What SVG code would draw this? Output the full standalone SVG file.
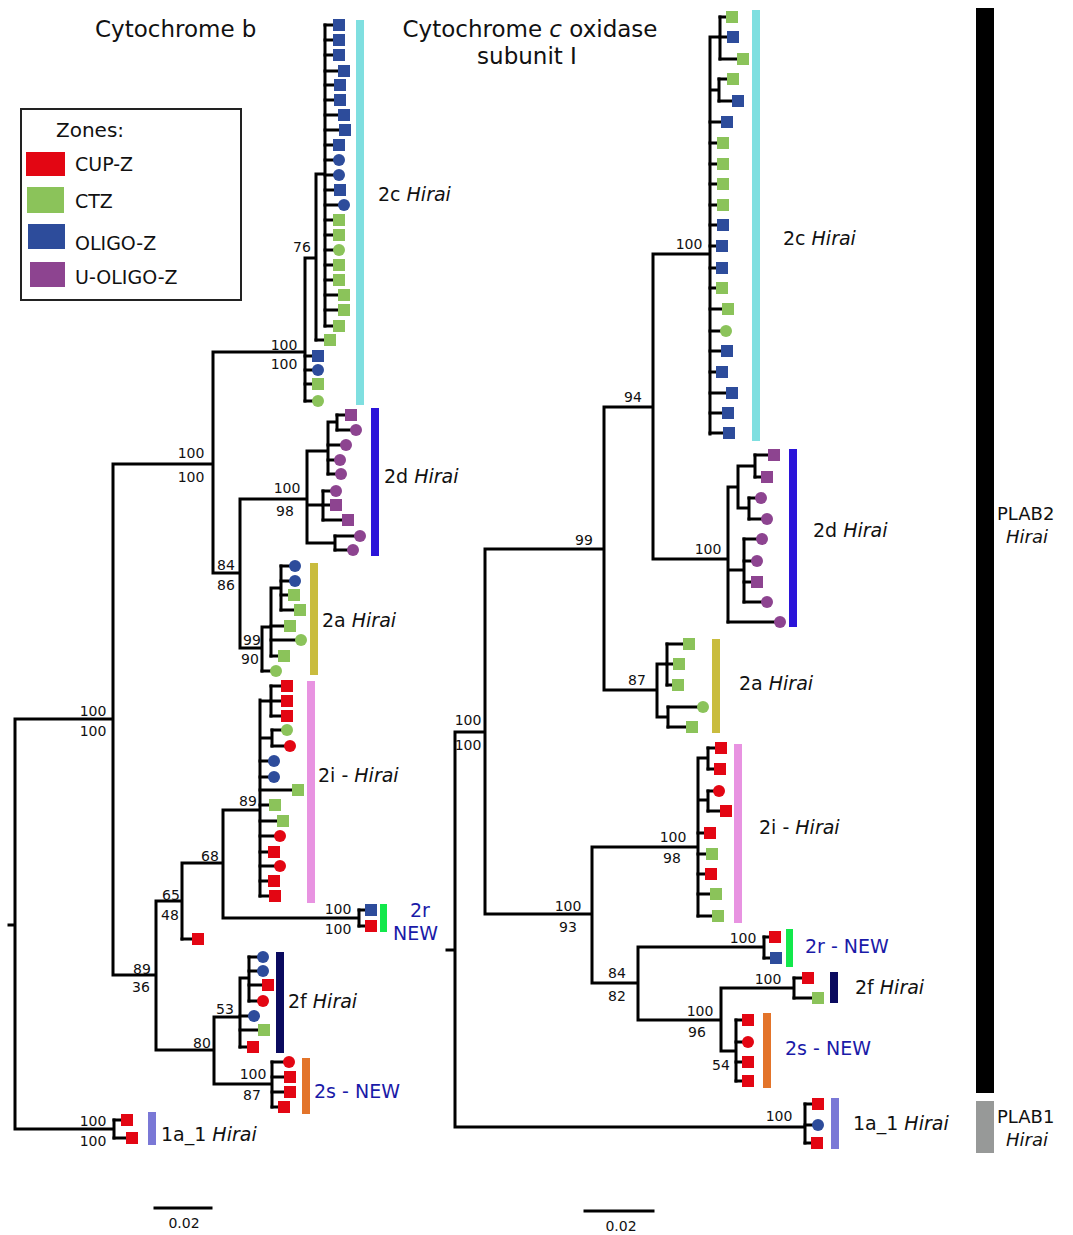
<svg xmlns="http://www.w3.org/2000/svg" width="1073" height="1235" viewBox="0 0 1073 1235">
<style>
text{font-family:"DejaVu Sans",Verdana,sans-serif;fill:#111}
.br{stroke:#000;stroke-width:3;fill:none;stroke-linecap:square}
.bs{font-size:14px;text-anchor:middle}
.cl{font-size:19px}
.nw{fill:#1a1aa8}
.ti{font-size:23px}
.lg{font-size:19px}
i,.it{font-style:italic}
.R{fill:#e30613}.G{fill:#8bc35a}.B{fill:#2d4c9b}.P{fill:#8d4490}
</style>
<rect width="1073" height="1235" fill="#fff"/>

<g id="connectors">
<!-- left tree -->
<path class="br" d="M9 925H15M15 719V1129M15 719H113M113 464V975M113 464H213M213 352V573M213 352H305M305 258V401M305 258H316M316 174V340M316 174H325M325 25V326
M213 573H240M240 499V648M240 499H307M307 451V543M307 451H328M328 422V474M328 422H337M337 415V430M307 505H323M323 491V520M307 543H335M335 536V550
M240 648H262M262 627V671M262 627H271M271 588V656M271 588H281M281 566V610
M113 975H156M156 901V1050M156 901H182M182 863V939M182 863H223M223 810V918M223 810H260M260 700V896M260 701H271M271 686V716M260 738H272M272 730V746
M223 918H359M359 910V926M156 1050H214M214 1017V1084M214 1017H240M240 978V1047M240 978H249M249 957V1001M214 1084H272M272 1062V1107
M15 1129H114M114 1120V1138"/>
<path class="br" d="M325 25H339M325 40H339M325 55H339M325 71H344M325 85H340M325 100H340M325 115H344M325 130H345M325 145H339M325 160H339M325 175H339M325 190H340M325 205H344M325 220H339M325 235H339M325 250H339M325 265H339M325 280H339M325 295H344M325 310H344M325 326H339
M316 340H330M305 356H318M305 370H318M305 384H318M305 401H318
M337 415H351M337 430H356M328 445H346M328 460H340M328 474H341M323 491H336M323 505H336M323 520H348M335 536H360M335 550H353
M281 566H295M281 581H295M281 595H294M281 610H300M271 626H290M271 640H301M271 656H284M262 671H276
M271 686H287M271 701H287M271 716H287M272 730H287M272 746H290M260 761H274M260 777H274M260 790H298M260 805H275M260 821H283M260 836H280M260 852H274M260 866H280M260 881H274M260 896H275
M359 910H371M359 926H371M182 939H198M249 957H263M249 971H263M249 985H268M249 1001H263M240 1016H254M240 1030H264M240 1047H253
M272 1062H289M272 1077H290M272 1092H290M272 1107H284M114 1120H127M114 1138H132"/>
<!-- right tree -->
<path class="br" d="M447 950H455M455 732V1127M455 732H485M485 549V914M485 549H604M604 407V690M604 407H653M653 254V559M653 254H710M710 37V434M710 37H720M720 17V59M710 90H719M719 79V101
M653 559H728M728 487V622M728 487H738M738 466V508M738 466H755M755 455V477M738 508H749M749 498V519M728 570H744M744 539V602
M604 690H657M657 664V717M657 664H667M667 644V685M657 717H668M668 707V727
M485 914H592M592 847V983M592 847H698M698 758V916M698 758H708M708 748V769M698 800H708M708 791V811
M592 983H638M638 947V1020M638 947H764M764 937V958M638 1020H721M721 988V1051M721 988H794M794 978V998M721 1051H736M736 1020V1081
M455 1127H805M805 1104V1143"/>
<path class="br" d="M720 17H732M720 37H733M720 59H743M719 79H733M719 101H738M710 122H727M710 143H723M710 164H723M710 184H723M710 205H723M710 225H723M710 246H722M710 268H722M710 288H722M710 309H728M710 331H726M710 351H727M710 372H722M710 393H732M710 413H728M710 433H729
M755 455H774M755 477H767M749 498H761M749 519H767M744 539H762M744 561H757M744 582H757M744 602H767M728 622H780
M667 644H689M667 664H679M667 685H678M668 707H703M668 727H692
M708 748H721M708 769H720M708 791H719M708 811H726M698 833H710M698 854H712M698 874H711M698 894H716M698 916H718
M764 937H775M764 958H776M794 978H808M794 998H818M736 1020H748M736 1042H748M736 1062H748M736 1081H748M805 1104H818M805 1125H818M805 1143H817"/>
<!-- scale bars -->
<path class="br" d="M155 1208H211M585 1211H653"/>
</g>

<g id="left-tips">
<rect class="B" x="333" y="19" width="12" height="12"/><rect class="B" x="333" y="34" width="12" height="12"/><rect class="B" x="333" y="49" width="12" height="12"/><rect class="B" x="338" y="65" width="12" height="12"/><rect class="B" x="334" y="79" width="12" height="12"/><rect class="B" x="334" y="94" width="12" height="12"/><rect class="B" x="338" y="109" width="12" height="12"/><rect class="B" x="339" y="124" width="12" height="12"/><rect class="B" x="333" y="139" width="12" height="12"/>
<circle class="B" cx="339" cy="160" r="6"/><circle class="B" cx="339" cy="175" r="6"/><rect class="B" x="334" y="184" width="12" height="12"/><circle class="B" cx="344" cy="205" r="6"/>
<rect class="G" x="333" y="214" width="12" height="12"/><rect class="G" x="333" y="229" width="12" height="12"/><circle class="G" cx="339" cy="250" r="6"/><rect class="G" x="333" y="259" width="12" height="12"/><rect class="G" x="333" y="274" width="12" height="12"/><rect class="G" x="338" y="289" width="12" height="12"/><rect class="G" x="338" y="304" width="12" height="12"/><rect class="G" x="333" y="320" width="12" height="12"/>
<rect class="G" x="324" y="334" width="12" height="12"/>
<rect class="B" x="312" y="350" width="12" height="12"/><circle class="B" cx="318" cy="370" r="6"/><rect class="G" x="312" y="378" width="12" height="12"/><circle class="G" cx="318" cy="401" r="6"/>
<rect class="P" x="345" y="409" width="12" height="12"/><circle class="P" cx="356" cy="430" r="6"/><circle class="P" cx="346" cy="445" r="6"/><circle class="P" cx="340" cy="460" r="6"/><circle class="P" cx="341" cy="474" r="6"/>
<circle class="P" cx="336" cy="491" r="6"/><rect class="P" x="330" y="499" width="12" height="12"/><rect class="P" x="342" y="514" width="12" height="12"/><circle class="P" cx="360" cy="536" r="6"/><circle class="P" cx="353" cy="550" r="6"/>
<circle class="B" cx="295" cy="566" r="6"/><circle class="B" cx="295" cy="581" r="6"/><rect class="G" x="288" y="589" width="12" height="12"/><rect class="G" x="294" y="604" width="12" height="12"/><rect class="G" x="284" y="620" width="12" height="12"/><circle class="G" cx="301" cy="640" r="6"/><rect class="G" x="278" y="650" width="12" height="12"/><circle class="G" cx="276" cy="671" r="6"/>
<rect class="R" x="281" y="680" width="12" height="12"/><rect class="R" x="281" y="695" width="12" height="12"/><rect class="R" x="281" y="710" width="12" height="12"/><circle class="G" cx="287" cy="730" r="6"/><circle class="R" cx="290" cy="746" r="6"/>
<circle class="B" cx="274" cy="761" r="6"/><circle class="B" cx="274" cy="777" r="6"/><rect class="G" x="292" y="784" width="12" height="12"/><rect class="G" x="269" y="799" width="12" height="12"/><rect class="G" x="277" y="815" width="12" height="12"/><circle class="R" cx="280" cy="836" r="6"/><rect class="R" x="268" y="846" width="12" height="12"/><circle class="R" cx="280" cy="866" r="6"/><rect class="R" x="268" y="875" width="12" height="12"/><rect class="R" x="269" y="890" width="12" height="12"/>
<rect class="B" x="365" y="904" width="12" height="12"/><rect class="R" x="365" y="920" width="12" height="12"/><rect class="R" x="192" y="933" width="12" height="12"/>
<circle class="B" cx="263" cy="957" r="6"/><circle class="B" cx="263" cy="971" r="6"/><rect class="R" x="262" y="979" width="12" height="12"/><circle class="R" cx="263" cy="1001" r="6"/><circle class="B" cx="254" cy="1016" r="6"/><rect class="G" x="258" y="1024" width="12" height="12"/><rect class="R" x="247" y="1041" width="12" height="12"/>
<circle class="R" cx="289" cy="1062" r="6"/><rect class="R" x="284" y="1071" width="12" height="12"/><rect class="R" x="284" y="1086" width="12" height="12"/><rect class="R" x="278" y="1101" width="12" height="12"/>
<rect class="R" x="121" y="1114" width="12" height="12"/><rect class="R" x="126" y="1132" width="12" height="12"/>
</g>

<g id="right-tips">
<rect class="G" x="726" y="11" width="12" height="12"/><rect class="B" x="727" y="31" width="12" height="12"/><rect class="G" x="737" y="53" width="12" height="12"/><rect class="G" x="727" y="73" width="12" height="12"/><rect class="B" x="732" y="95" width="12" height="12"/>
<rect class="B" x="721" y="116" width="12" height="12"/><rect class="G" x="717" y="137" width="12" height="12"/><rect class="G" x="717" y="158" width="12" height="12"/><rect class="G" x="717" y="178" width="12" height="12"/><rect class="G" x="717" y="199" width="12" height="12"/><rect class="B" x="717" y="219" width="12" height="12"/><rect class="B" x="716" y="240" width="12" height="12"/><rect class="B" x="716" y="262" width="12" height="12"/><rect class="G" x="716" y="282" width="12" height="12"/><rect class="G" x="722" y="303" width="12" height="12"/><circle class="G" cx="726" cy="331" r="6"/><rect class="B" x="721" y="345" width="12" height="12"/><rect class="B" x="716" y="366" width="12" height="12"/><rect class="B" x="726" y="387" width="12" height="12"/><rect class="B" x="722" y="407" width="12" height="12"/><rect class="B" x="723" y="427" width="12" height="12"/>
<rect class="P" x="768" y="449" width="12" height="12"/><rect class="P" x="761" y="471" width="12" height="12"/><circle class="P" cx="761" cy="498" r="6"/><circle class="P" cx="767" cy="519" r="6"/><circle class="P" cx="762" cy="539" r="6"/><circle class="P" cx="757" cy="561" r="6"/><rect class="P" x="751" y="576" width="12" height="12"/><circle class="P" cx="767" cy="602" r="6"/><circle class="P" cx="780" cy="622" r="6"/>
<rect class="G" x="683" y="638" width="12" height="12"/><rect class="G" x="673" y="658" width="12" height="12"/><rect class="G" x="672" y="679" width="12" height="12"/><circle class="G" cx="703" cy="707" r="6"/><rect class="G" x="686" y="721" width="12" height="12"/>
<rect class="R" x="715" y="742" width="12" height="12"/><rect class="R" x="714" y="763" width="12" height="12"/><circle class="R" cx="719" cy="791" r="6"/><rect class="R" x="720" y="805" width="12" height="12"/><rect class="R" x="704" y="827" width="12" height="12"/><rect class="G" x="706" y="848" width="12" height="12"/><rect class="R" x="705" y="868" width="12" height="12"/><rect class="G" x="710" y="888" width="12" height="12"/><rect class="G" x="712" y="910" width="12" height="12"/>
<rect class="R" x="769" y="931" width="12" height="12"/><rect class="B" x="770" y="952" width="12" height="12"/><rect class="R" x="802" y="972" width="12" height="12"/><rect class="G" x="812" y="992" width="12" height="12"/>
<rect class="R" x="742" y="1014" width="12" height="12"/><circle class="R" cx="748" cy="1042" r="6"/><rect class="R" x="742" y="1056" width="12" height="12"/><rect class="R" x="742" y="1075" width="12" height="12"/>
<rect class="R" x="812" y="1098" width="12" height="12"/><circle class="B" cx="818" cy="1125" r="6"/><rect class="R" x="811" y="1137" width="12" height="12"/>
</g>

<g id="bootstrap">
<text class="bs" x="93" y="716">100</text><text class="bs" x="93" y="736">100</text>
<text class="bs" x="191" y="458">100</text><text class="bs" x="191" y="482">100</text>
<text class="bs" x="284" y="350">100</text><text class="bs" x="284" y="369">100</text>
<text class="bs" x="302" y="252">76</text>
<text class="bs" x="287" y="493">100</text><text class="bs" x="285" y="516">98</text>
<text class="bs" x="226" y="570">84</text><text class="bs" x="226" y="590">86</text>
<text class="bs" x="252" y="645">99</text><text class="bs" x="250" y="664">90</text>
<text class="bs" x="248" y="806">89</text>
<text class="bs" x="210" y="861">68</text>
<text class="bs" x="171" y="900">65</text><text class="bs" x="170" y="920">48</text>
<text class="bs" x="338" y="914">100</text><text class="bs" x="338" y="934">100</text>
<text class="bs" x="142" y="974">89</text><text class="bs" x="141" y="992">36</text>
<text class="bs" x="225" y="1014">53</text>
<text class="bs" x="202" y="1048">80</text>
<text class="bs" x="253" y="1079">100</text><text class="bs" x="252" y="1100">87</text>
<text class="bs" x="93" y="1126">100</text><text class="bs" x="93" y="1146">100</text>
<text class="bs" x="468" y="725">100</text><text class="bs" x="468" y="750">100</text>
<text class="bs" x="584" y="545">99</text>
<text class="bs" x="633" y="402">94</text>
<text class="bs" x="689" y="249">100</text>
<text class="bs" x="708" y="554">100</text>
<text class="bs" x="637" y="685">87</text>
<text class="bs" x="673" y="842">100</text><text class="bs" x="672" y="863">98</text>
<text class="bs" x="568" y="911">100</text><text class="bs" x="568" y="932">93</text>
<text class="bs" x="617" y="978">84</text><text class="bs" x="617" y="1001">82</text>
<text class="bs" x="743" y="943">100</text>
<text class="bs" x="768" y="984">100</text>
<text class="bs" x="700" y="1016">100</text><text class="bs" x="697" y="1037">96</text>
<text class="bs" x="721" y="1070">54</text>
<text class="bs" x="779" y="1121">100</text>
<text class="bs" x="184" y="1228">0.02</text>
<text class="bs" x="621" y="1231">0.02</text>
</g>

<g id="clade-bars">
<rect x="356" y="20" width="8" height="385" fill="#7fdfe0"/>
<rect x="371" y="408" width="8" height="148" fill="#2b14d9"/>
<rect x="310" y="563" width="8" height="112" fill="#c9bc3e"/>
<rect x="307" y="681" width="8" height="222" fill="#e893e1"/>
<rect x="380" y="904" width="7" height="28" fill="#12e84b"/>
<rect x="276" y="952" width="8" height="101" fill="#0a0a5f"/>
<rect x="302" y="1058" width="8" height="56" fill="#e3742a"/>
<rect x="148" y="1112" width="8" height="33" fill="#7a78d6"/>
<rect x="752" y="10" width="8" height="431" fill="#7fdfe0"/>
<rect x="789" y="449" width="8" height="178" fill="#2b14d9"/>
<rect x="712" y="639" width="8" height="94" fill="#c9bc3e"/>
<rect x="734" y="744" width="8" height="179" fill="#e893e1"/>
<rect x="786" y="929" width="7" height="38" fill="#12e84b"/>
<rect x="830" y="972" width="8" height="31" fill="#0a0a5f"/>
<rect x="763" y="1013" width="8" height="75" fill="#e3742a"/>
<rect x="831" y="1098" width="8" height="51" fill="#7a78d6"/>
<rect x="976" y="8" width="18" height="1085" fill="#000"/>
<rect x="976" y="1101" width="18" height="52" fill="#979998"/>
</g>

<g id="clade-labels">
<text class="cl" x="378" y="201">2c <tspan class="it">Hirai</tspan></text>
<text class="cl" x="384" y="483">2d <tspan class="it">Hirai</tspan></text>
<text class="cl" x="322" y="627">2a <tspan class="it">Hirai</tspan></text>
<text class="cl" x="318" y="782">2i - <tspan class="it">Hirai</tspan></text>
<text class="cl nw" x="410" y="917">2r</text>
<text class="cl nw" x="393" y="940">NEW</text>
<text class="cl" x="288" y="1008">2f <tspan class="it">Hirai</tspan></text>
<text class="cl nw" x="314" y="1098">2s - NEW</text>
<text class="cl" x="161" y="1141">1a_1 <tspan class="it">Hirai</tspan></text>
<text class="cl" x="783" y="245">2c <tspan class="it">Hirai</tspan></text>
<text class="cl" x="813" y="537">2d <tspan class="it">Hirai</tspan></text>
<text class="cl" x="739" y="690">2a <tspan class="it">Hirai</tspan></text>
<text class="cl" x="759" y="834">2i - <tspan class="it">Hirai</tspan></text>
<text class="cl nw" x="805" y="953">2r - NEW</text>
<text class="cl" x="855" y="994">2f <tspan class="it">Hirai</tspan></text>
<text class="cl nw" x="785" y="1055">2s - NEW</text>
<text class="cl" x="853" y="1130">1a_1 <tspan class="it">Hirai</tspan></text>
<text class="cl" x="997" y="520" style="font-size:18px">PLAB2</text>
<text class="cl it" x="1027" y="543" text-anchor="middle" style="font-size:18px">Hirai</text>
<text class="cl" x="997" y="1123" style="font-size:18px">PLAB1</text>
<text class="cl it" x="1027" y="1146" text-anchor="middle" style="font-size:18px">Hirai</text>
</g>

<g id="titles">
<text class="ti" x="95" y="37">Cytochrome b</text>
<text class="ti" x="530" y="37" text-anchor="middle">Cytochrome <tspan class="it">c</tspan> oxidase</text>
<text class="ti" x="527" y="64" text-anchor="middle">subunit I</text>
</g>

<g id="legend">
<rect x="21" y="109" width="220" height="191" fill="none" stroke="#222" stroke-width="2"/>
<text x="56" y="137" style="font-size:20px">Zones:</text>
<rect x="26" y="152" width="39" height="24" class="R"/>
<rect x="27" y="187" width="37" height="26" class="G"/>
<rect x="28" y="224" width="37" height="25" class="B"/>
<rect x="30" y="262" width="35" height="25" class="P"/>
<text class="lg" x="75" y="171">CUP-Z</text>
<text class="lg" x="75" y="208">CTZ</text>
<text class="lg" x="75" y="250">OLIGO-Z</text>
<text class="lg" x="75" y="284">U-OLIGO-Z</text>
</g>
</svg>
